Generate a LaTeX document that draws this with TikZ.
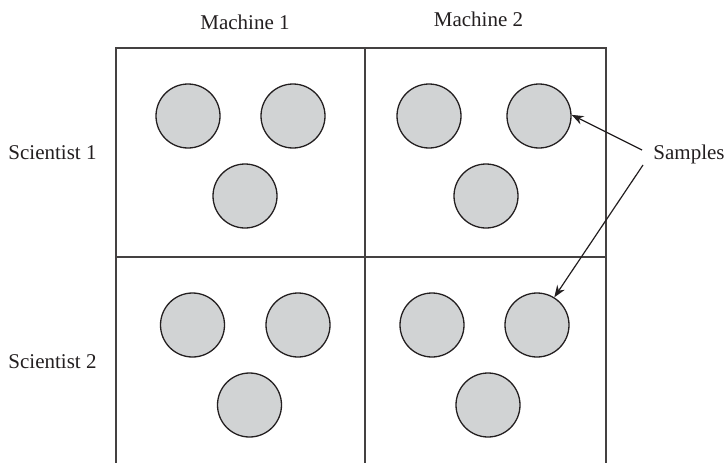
\documentclass[tikz,border=0pt]{standalone}
\usepackage{fontspec}
\setmainfont{Liberation Serif}
\usetikzlibrary{arrows.meta}
\definecolor{samplefill}{RGB}{209,211,212}
\definecolor{ink}{RGB}{35,31,32}
\tikzset{
  grid/.style={draw=ink!85, line width=1.3pt},
  sample/.style={circle, draw=ink, line width=1.3pt, fill=samplefill,
    minimum size=64pt, inner sep=0pt},
  lbl/.style={font=\fontsize{21}{25}\selectfont, text=ink, anchor=base, inner sep=0pt},
  pointer/.style={draw=ink, line width=1.2pt, -{Stealth[length=12pt,width=9pt]}}
}
\begin{document}
\begin{tikzpicture}[x=1pt,y=-1pt]
\useasboundingbox (0,0) rectangle (728,463);
\begin{scope}
\clip (0,0) rectangle (728,463);
% two-by-two layout of machine and scientist cells
\draw[grid] (116,480) -- (116,48) -- (606,48) -- (606,480);
\draw[grid] (365,48) -- (365,480);
\draw[grid] (116,257) -- (606,257);

% scientist 1, machine 1
\node[sample] (c11a) at (188,116) {};
\node[sample] (c11b) at (293,116) {};
\node[sample] (c11c) at (245,196) {};
% scientist 1, machine 2
\node[sample] (c12a) at (429,116) {};
\node[sample] (c12b) at (539,116) {};
\node[sample] (c12c) at (486,196) {};
% scientist 2, machine 1
\node[sample] (c21a) at (192.5,325) {};
\node[sample] (c21b) at (298,325) {};
\node[sample] (c21c) at (249.5,405) {};
% scientist 2, machine 2
\node[sample] (c22a) at (432,325) {};
\node[sample] (c22b) at (537,325) {};
\node[sample] (c22c) at (488,405) {};
\end{scope}

% row and column headings
\node[lbl] (m1) at (245,29) {Machine 1};
\node[lbl] (m2) at (478.5,26) {Machine 2};
\node[lbl] (s1) at (52.5,159) {Scientist 1};
\node[lbl] (s2) at (52.5,368) {Scientist 2};
\node[lbl] (smp) at (689,159) {Samples};

% pointers from the label to two of the samples
\coordinate (p1) at (642,150);
\coordinate (p2) at (643,165);
\draw[pointer] (p1) -- (c12b.2);
\draw[pointer] (p2) -- (c22b.58);
\end{tikzpicture}
\end{document}
